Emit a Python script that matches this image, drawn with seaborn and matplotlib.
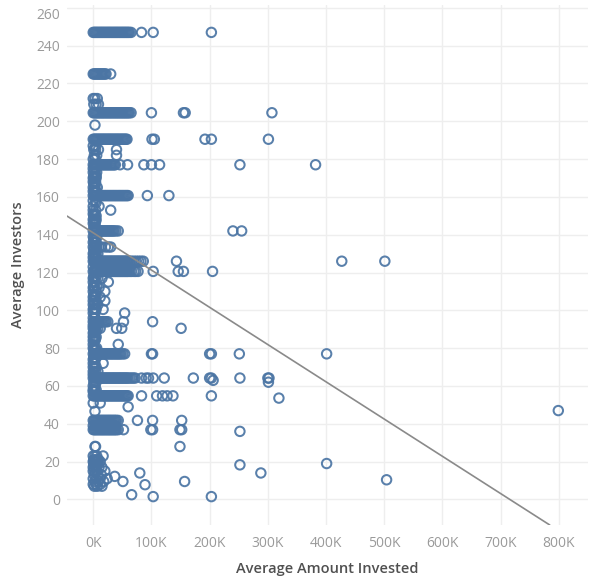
import matplotlib
matplotlib.use("Agg")
import matplotlib.pyplot as plt
import pandas as pd
import seaborn as sns

# Each entry: (average investors, [average amounts invested in $K at that level])

band_top = [
    (247, [0, 2, 4, 6, 8, 10, 12, 14, 16, 18, 20, 22, 24, 26, 28, 30, 32, 34, 36, 38,
           40, 42, 44, 46, 48, 50, 52, 54, 56, 58, 60, 62, 65, 83, 103, 203]),
    (225, [0, 2, 4, 6, 8, 10, 12, 14, 16, 18, 20, 22, 30]),
    (212, [0, 3, 7]),
    (209, [1, 5, 9]),
    (204.5, [0, 2, 4, 6, 8, 10, 12, 14, 16, 18, 20, 22, 24, 26, 28, 30, 32, 34, 36, 38,
             40, 42, 44, 46, 48, 50, 52, 54, 56, 58, 60, 62, 65, 100, 155, 158, 307]),
    (198, [3]),
    (190.5, [0, 2, 4, 6, 8, 10, 12, 14, 16, 18, 20, 22, 24, 26, 28, 30, 32, 34, 36, 38,
             40, 42, 44, 46, 48, 50, 52, 54, 56, 58, 101, 105, 192, 203, 301]),
    (187, [0, 4]),
    (185, [1, 4, 9, 40]),
    (182, [2, 6, 40]),
    (180, [0, 3]),
    (177, [0, 2, 4, 6, 8, 10, 12, 14, 16, 18, 20, 22, 24, 26, 28, 30, 32, 34, 36, 38,
           46, 59, 87, 100, 114, 252, 382]),
]

band_upper_mid = [
    (175, [0, 4]), (173, [0, 3, 6]), (171, [1, 5]), (170, [0, 2, 5]), (168, [0, 4]),
    (167, [1, 4]), (165, [0, 3, 7]), (163, [0, 2, 5]),
    (160.7, [0, 2, 4, 6, 8, 10, 12, 14, 16, 18, 20, 22, 24, 26, 28, 30, 32, 34, 36, 38,
             40, 42, 44, 46, 48, 50, 52, 54, 56, 58, 60, 93, 130]),
    (158, [0, 4]), (157, [5]), (155, [0, 10]), (153, [0, 4, 30]), (151, [0, 3]),
    (150, [1, 5]), (148, [0, 2, 5]), (147, [1, 4]), (146, [0, 3]), (144, [1, 4]),
    (142, [0, 2, 4, 6, 8, 10, 12, 14, 16, 18, 20, 22, 24, 26, 28, 30, 32, 34, 36, 39, 43,
           240, 255]),
    (139, [0, 3, 6]), (138, [1, 5]), (136, [0, 2, 5]),
]

band_mid = [
    (133.5, [0, 3, 6, 10, 14, 21, 26, 30]),
    (132, [1, 5]), (130, [0, 2, 5, 8]), (129, [1, 4]), (128, [0, 3]),
    (126, [0, 2, 4, 6, 8, 10, 12, 14, 16, 18, 20, 22, 24, 26, 28, 30, 32, 34, 36, 38,
           40, 42, 44, 46, 48, 50, 52, 54, 56, 58, 60, 63, 66, 70, 74, 78, 82, 86,
           143, 427, 501]),
    (123, [0, 4]),
    (120.6, [0, 2, 4, 6, 8, 10, 12, 14, 16, 18, 20, 22, 24, 26, 28, 30, 32, 34, 36, 38,
             40, 42, 44, 46, 48, 50, 52, 54, 56, 58, 60, 63, 66, 70, 73, 77,
             103, 146, 155, 205]),
    (118, [1, 5]), (117, [0, 3, 8, 15]), (115, [0, 4, 26]), (113, [1, 6]),
    (112, [0, 2, 10]), (110, [0, 5, 20]), (108, [1, 4]), (107, [0, 3, 12]),
    (105, [0, 20]), (104, [2, 6]), (103, [0, 2, 8]), (101, [1, 4]),
    (100.5, [0, 5, 17]), (98.6, [0, 3, 54]),
]

band_lower_mid = [
    (96, [0, 3]),
    (94, [0, 2, 4, 6, 8, 10, 12, 14, 16, 18, 20, 22, 25, 52, 102]),
    (92, [0, 3, 6]),
    (90.5, [0, 4, 8, 12, 40, 49, 151]),
    (89, [1, 5]), (88, [0, 3]), (86, [0, 2, 5]), (85, [1, 4]), (84, [0, 3]),
    (82, [0, 43]), (80, [0, 3, 6]), (79, [1, 5]),
    (77, [0, 2, 4, 6, 8, 10, 12, 14, 16, 18, 20, 22, 24, 26, 28, 30, 32, 34, 36, 38,
          40, 42, 44, 46, 48, 51, 54, 100, 102, 200, 203, 251, 401]),
    (75, [1, 5]), (74, [0, 3]), (72, [0, 3, 17]), (70, [0, 2, 5]),
    (67.7, [0, 4, 8]), (66, [0, 3]),
    (64.2, [0, 2, 4, 6, 8, 10, 12, 14, 16, 18, 20, 22, 24, 26, 28, 30, 32, 34, 36, 38,
            40, 42, 44, 46, 48, 50, 52, 54, 56, 58, 60, 63, 66, 69, 72,
            83, 91, 95, 103, 122, 172, 200, 203, 252, 300, 302]),
    (63, [206]), (62, [1, 5, 301]), (60, [0, 3]), (58, [0, 2, 5]), (57, [0, 3]),
]

band_low = [
    (54.8, [0, 2, 4, 6, 8, 10, 12, 14, 16, 18, 20, 22, 24, 26, 28, 30, 32, 34, 36, 38,
            40, 42, 44, 46, 48, 50, 52, 54, 56, 58, 60, 83, 109, 119, 127, 137, 203]),
    (53.6, [319]),
    (51, [0, 12]), (49, [60]), (47, [799]), (46.6, [3]),
    (41.8, [0, 2, 4, 6, 8, 10, 12, 14, 16, 18, 20, 22, 24, 26, 28, 30, 32, 34, 36, 38,
            40, 43, 76, 102, 152]),
    (39, [0, 3, 6, 10, 14, 18, 22, 26, 30, 34, 38]),
    (36.9, [0, 2, 4, 6, 8, 10, 12, 14, 16, 18, 20, 22, 24, 26, 28, 30, 32, 34, 36, 38,
            40, 43, 52, 99, 102, 149, 152]),
    (36, [252]),
    (28, [3, 4, 149]),
    (23, [0, 3, 6, 17]), (21, [1, 5, 9]), (20, [0, 2, 5, 8, 12]),
    (19, [401]), (18.3, [1, 6, 252]), (17, [0, 4, 10, 15]),
    (15, [0, 3, 6, 20]), (14, [80, 288]), (13, [2, 8, 14]), (12.2, [37]),
    (11, [0, 5, 12, 24]), (10.4, [504]),
    (9.5, [3, 9, 18, 51, 157]), (8, [0, 5, 12]), (7.8, [89]), (7, [2, 7, 15]),
    (2.5, [66]), (1.5, [103, 203]),
]

# fitted trend: investors = trend_intercept + trend_slope * amount ($K)
trend_intercept = 141.0
trend_slope = -0.197

x_ticks = [0, 100, 200, 300, 400, 500, 600, 700, 800]
y_ticks = [0, 20, 40, 60, 80, 100, 120, 140, 160, 180, 200, 220, 240, 260]

records = [
    (amount, level)
    for band in (band_top, band_upper_mid, band_mid, band_lower_mid, band_low)
    for level, amounts in band
    for amount in amounts
]
df = pd.DataFrame(records, columns=["Average Amount Invested", "Average Investors"])

sns.set_theme(style="whitegrid")
plt.rcParams["font.family"] = ["Open Sans", "DejaVu Sans"]

fig = plt.figure(figsize=(5.9, 5.85), dpi=100)
ax = fig.add_axes([0.1136, 0.1026, 0.883, 0.8889])

mark = "#4b75a4"
sns.scatterplot(
    data=df, x="Average Amount Invested", y="Average Investors", ax=ax,
    marker="o", s=46, facecolors="none", edgecolor=mark, linewidth=1.45,
    alpha=0.92, zorder=3,
)
ax.axline((0, trend_intercept), slope=trend_slope, color="#8a8a8a", lw=1.2, zorder=4)

ax.set_xlim(-45, 850)
ax.set_ylim(-13.5, 261.5)
ax.set_xticks(x_ticks)
ax.set_xticklabels([f"{v}K" for v in x_ticks])
ax.set_yticks(y_ticks)
ax.set_yticklabels([str(v) for v in y_ticks])

ax.grid(True, color="#eeeeee", lw=1.0)
ax.set_axisbelow(True)
for s in ax.spines.values():
    s.set_visible(False)
ax.tick_params(axis="both", length=0, labelsize=10, labelcolor="#9a9a9a")
ax.tick_params(axis="x", pad=8)
ax.tick_params(axis="y", pad=5)

ax.set_xlabel("Average Amount Invested", fontsize=10.5, color="#505050",
              fontweight="semibold", labelpad=8)
ax.set_ylabel("Average Investors", fontsize=10.5, color="#505050",
              fontweight="semibold", labelpad=8)

# top value label sits just inside the plot area
ax.get_yticklabels()[-1].set_va("top")

fig.savefig("out.png", dpi=100, facecolor="white")
